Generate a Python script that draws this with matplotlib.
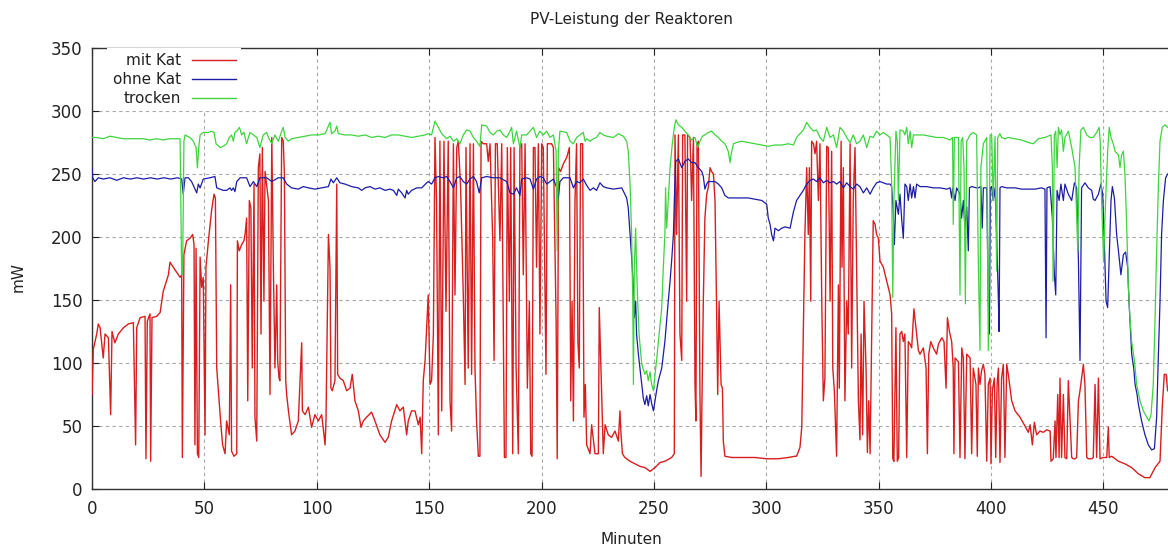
import matplotlib
matplotlib.use("Agg")
import matplotlib.pyplot as plt

# ---------------- data (minutes, mW) ----------------
red_x = [0, 0.6, 2.1, 2.8, 3.6, 5.0, 5.8, 7.3, 8.3, 8.9, 10.2, 11.7, 14.0, 16.2, 18.4, 19.4, 19.9,
         21.4, 23.6, 24.0, 24.6, 25.8, 26.1, 26.7, 28.8, 30.3, 31.7, 34.0, 34.7, 36.9, 39.2, 39.9,
         40.2, 40.9, 42.1, 43.6, 44.8, 45.4, 45.8, 46.3, 46.9, 47.5, 48.1, 48.8, 49.5, 50.3, 50.7,
         51.8, 53.2, 54.3, 54.9, 55.5, 57.0, 58.1, 59.2, 59.9, 61.1, 61.7, 62.1, 63.2, 64.4, 64.7,
         65.5, 66.6, 67.6, 68.1, 68.8, 69.3, 70.0, 70.7, 71.3, 72.1, 72.5, 73.3, 74.0, 74.7, 75.2,
         75.8, 76.5,
         77.0, 78.5, 79.2, 80.0, 80.7, 81.4, 82.2, 82.6, 83.2, 83.6, 84.4, 85.1, 85.6, 86.2, 86.6,
         87.4, 88.8, 90.3, 91.8, 93.3, 93.6, 94.8, 96.3, 97.7, 99.2, 100.7, 102.2, 103.7, 104.1,
         105.2, 105.9, 106.3, 106.9, 108.1, 108.9, 109.3, 110.3, 111.8, 113.3, 114.8, 115.8, 117.0,
         118.5, 119.7, 120.7, 122.2, 124.4, 125.9, 128.1, 130.4, 131.8, 133.3, 135.6, 137.0, 138.5,
         140.0, 140.7, 142.2, 143.7, 145.2, 146.0, 146.7, 147.4, 148.2, 148.9, 149.6, 150.4, 151.1,
         151.9, 152.6, 153.3, 154.1,
         154.8, 155.6, 156.6, 157.5, 158.5, 159.3, 160.0, 160.8, 161.5, 162.3, 163.0, 164.0, 165.2,
         166.0, 166.4, 167.4, 168.2, 168.9, 169.7, 170.4, 171.1, 171.9, 172.6, 173.1, 174.1, 175.6,
         176.3, 177.1, 178.3, 178.9, 179.5, 180.3, 181.5, 182.3, 183.5, 184.2, 184.8, 185.7, 186.3,
         187.2, 187.8, 188.7, 189.7, 190.4, 191.2, 191.9, 192.7, 193.7, 194.6, 195.2, 195.8, 196.4,
         197.1, 197.8, 198.6, 199.3, 200.1, 200.8, 202.0, 202.6, 203.5, 204.5, 205.3, 206.5, 207.0,
         207.6, 208.5, 209.7, 211.2, 212.4, 213.0, 213.6, 214.2, 214.9, 215.6, 216.2, 216.8, 217.4,
         218.3, 218.9, 219.5, 220.1, 221.6, 222.3, 223.8, 225.3, 225.7, 226.8, 227.5, 228.3, 229.7,
         231.2, 232.7, 234.2,
         234.9, 235.4, 236.0, 237.1, 239.4, 241.6, 243.8, 246.0, 248.3, 250.5, 252.7, 254.9, 257.9,
         259.1, 259.4, 260.1, 260.9, 261.6, 262.4, 262.8, 263.8, 264.6, 265.0, 266.1, 266.8, 267.6,
         268.3, 268.7, 269.2, 269.8, 270.5, 271.0, 271.4, 272.0, 272.7, 273.5, 274.2, 275.0, 275.7,
         276.5, 277.2, 277.9, 278.4, 279.0, 279.9, 280.5, 280.9, 281.6, 284.6, 289.1, 295.0, 300.2,
         305.4, 309.8, 312.8,
         313.5, 315.0, 315.8, 316.5, 317.0, 317.2, 318.0, 318.7, 319.2, 319.8, 320.2, 321.0, 321.7,
         322.4, 323.2, 323.9, 324.7, 325.4, 326.1, 326.9, 327.6, 328.4, 329.1, 329.6, 330.3, 331.3,
         332.1, 332.5, 333.3, 333.7, 334.3, 335.0, 335.8, 336.5, 337.3, 338.0, 338.7, 339.5, 340.2,
         341.0, 341.7, 342.2, 342.9, 343.5, 344.4, 345.0, 345.6, 346.2, 346.9, 347.6, 348.4, 349.1,
         349.9, 350.6, 352.1, 353.6, 355.1, 355.8, 356.3, 356.8, 357.7, 358.3, 358.9, 359.5, 360.3,
         361.0, 361.7, 362.5, 363.2, 364.0, 364.7, 365.7, 366.6, 367.7, 368.4, 369.9, 371.1, 371.7,
         372.3, 373.2, 374.3, 375.8, 376.6, 378.1, 379.1, 380.0, 380.6, 381.5, 382.5, 383.2, 383.5,
         384.0, 385.5, 386.2, 387.0, 387.7, 388.4, 389.2, 390.7, 391.4, 392.1, 393.3, 393.9,
         394.4, 395.1, 395.8, 396.6, 397.3, 398.1, 398.8, 399.6, 400.0, 400.6, 401.5, 402.1, 402.7,
         403.3, 404.0, 404.7, 405.5, 406.2, 407.0, 407.7, 409.2, 410.7, 412.9, 415.1, 416.6, 417.4,
         418.4, 419.3, 420.3, 421.8, 423.3, 424.8, 426.3, 426.7, 427.7, 428.5, 428.9, 429.7, 430.3,
         430.7, 431.4, 432.2, 432.9, 433.7, 434.4, 435.1, 435.9, 436.6, 437.4, 438.1, 438.9, 439.6,
         440.3, 441.1, 441.8, 442.6, 443.3, 444.8, 445.5, 446.3, 447.0, 447.8, 448.5, 450.0, 451.5,
         452.2, 452.6, 453.7, 456.7, 459.6, 462.6, 465.6, 468.5, 470.7, 473.0, 475.2, 476.2, 477.1,
         477.9, 478.6]
red_y = [75, 111, 123, 131, 128, 104, 123, 120, 59, 125, 116, 123, 128, 131, 132, 35, 128,
         136, 137, 24, 133, 139, 22, 136, 137, 140, 157, 170, 180, 174, 168, 170,
         25, 186, 197, 199, 202, 194, 35, 191, 28, 25, 184, 160, 168, 43, 176,
         197, 221, 234, 231, 96, 59, 35, 28, 54, 43, 162, 30, 26, 28, 197,
         189, 194, 197, 202, 215, 70, 229, 223, 96, 242, 57, 38, 255, 266, 123,
         271, 149,
         252, 229, 75, 279, 176, 96, 162, 102, 88, 86, 279, 276, 250, 86, 75,
         62, 43, 46, 54, 116, 62, 59, 65, 49, 59, 54, 59, 35, 54,
         202, 176, 80, 78, 86, 242, 91, 88, 86, 78, 80, 91, 70,
         62, 49, 54, 57, 61, 54, 43, 37, 41, 54, 67, 62, 65,
         43, 54, 62, 62, 51, 57, 28, 86, 102, 128, 154, 83, 86,
         123, 279, 229, 43,
         276, 62, 276, 141, 276, 70, 46, 274, 154, 271, 276, 239, 154,
         83, 271, 96, 274, 91, 274, 96, 54, 26, 26, 276, 274, 274,
         260, 274, 197, 102, 274, 274, 197, 274, 25, 25, 271, 149, 271,
         28, 271, 96, 28, 271, 274, 170, 274, 80, 149, 28, 26, 271,
         271, 176, 274, 123, 274, 271, 91, 274, 274, 274, 271, 133, 24,
         255, 252, 258, 263, 271, 70, 149, 54, 229, 274, 117, 96, 274,
         274, 57, 83, 35, 28, 51, 28, 28, 144, 75, 28, 51, 43,
         41, 46, 38,
         62, 43, 28, 25, 22, 20, 18, 17, 14, 17, 21, 22, 25,
         28, 281, 202, 281, 123, 102, 281, 281, 149, 281, 279, 229, 279,
         83, 54, 274, 276, 75, 10, 70, 149, 215, 234, 239, 255, 252,
         250, 229, 144, 75, 149, 83, 80, 38, 26, 25, 25, 25, 24,
         24, 25, 26,
         26, 33, 49, 123, 176, 202, 255, 202, 255, 149, 276, 274, 266,
         276, 229, 274, 149, 70, 88, 272, 271, 149, 268, 96, 78, 26,
         162, 80, 276, 176, 255, 70, 149, 123, 274, 96, 229, 271, 176,
         70, 39, 123, 43, 149, 96, 29, 70, 28, 123, 213, 210, 202,
         199, 181, 176, 165, 154, 139, 24, 22, 128, 22, 25, 123, 125,
         117, 123, 25, 117, 115, 112, 143, 128, 110, 107, 112, 96, 28,
         107, 117, 112, 107, 115, 120, 117, 80, 136, 125, 117, 96, 28,
         104, 101, 25, 112, 104, 24, 107, 104, 28, 96, 83, 26,
         96, 83, 94, 99, 91, 22, 83, 88, 20, 78, 88, 25, 83,
         96, 21, 88, 99, 25, 99, 91, 70, 62, 57, 50, 45, 51,
         35, 53, 43, 46, 45, 47, 46, 22, 24, 54, 25, 75, 25,
         88, 25, 75, 25, 24, 86, 57, 25, 24, 24, 25, 70, 78,
         88, 99, 83, 25, 24, 24, 25, 83, 25, 88, 24, 25, 25,
         49, 25, 26, 22, 20, 17, 12, 9, 9, 17, 22, 65, 91,
         91, 78]

blue_x = [0, 0.3, 1.3, 2.8, 5, 8, 11, 14, 17, 20, 23, 26, 29, 32, 35, 38, 39.9, 40.6, 41.4,
          42.9, 44.3, 45.8, 46.6, 47.3, 48.1, 49.5, 52.5, 54.7, 55.5, 57.0, 58.4, 59.9, 61.4,
          62.1, 62.9, 63.6, 64.4, 65.9, 68.8, 70.3, 71.8, 73.3, 74.7, 77.7,
          80.0, 82.9, 85.1, 86.6, 88.8, 91.8, 94.0, 96.3, 99.2, 102.2, 105.2, 106.3, 107.4,
          108.9, 110.3, 112.6, 115.5, 118.5, 120.0, 121.5, 123.7, 125.9, 128.1, 130.4, 132.6,
          134.1, 135.6, 136.3, 137.8, 139.3, 140.0, 140.7, 142.2, 144.5, 146.7, 148.9, 149.6,
          151.1, 152.6, 154.1,
          156.3, 157.8, 159.3, 160.8, 162.3, 163.7, 165.2, 166.7, 168.2, 169.7, 171.1, 172.3,
          173.4, 175.6, 178.6, 181.5, 184.5, 186.0, 187.5, 188.9, 190.4, 191.2, 193.4, 194.9,
          196.4, 197.8, 199.3, 200.8, 202.3, 203.8, 205.3, 206.8, 207.5, 208.2, 209.7, 212.7,
          214.2, 215.6, 217.1, 218.6, 220.1, 221.6, 223.1, 224.5, 226.0, 227.5, 229.0, 232.0,
          235.7, 237.9, 238.6, 239.4, 240.1, 240.9, 241.3, 241.9, 242.3, 243.1, 243.8, 244.6,
          245.3, 246.0, 246.8, 247.5, 248.3, 249.0, 249.8, 250.5, 251.2, 252.0, 253.5, 254.9,
          256.4, 257.2, 257.9, 258.7, 259.1, 259.7, 260.9, 262.4, 263.8, 265.3, 266.8, 268.3,
          269.8, 271.3, 272.0, 272.7, 273.5, 274.2, 275.7, 277.2, 278.7, 280.2, 281.6, 283.1,
          286.1, 289.1, 292.0, 295.0, 298.0, 300.2, 300.9, 301.7, 302.4, 303.2, 303.9, 305.4,
          306.9, 308.4, 310.6,
          312.1, 313.5, 315.0, 316.5, 318.0, 319.5, 321.0, 322.4, 323.9, 325.4, 326.9, 328.4,
          329.9, 331.3, 332.8, 334.3, 335.8, 337.3, 338.7, 340.2, 341.7, 343.2, 344.7, 346.2,
          347.6, 349.1, 350.6, 352.1, 353.6, 355.1, 355.8, 356.5, 357.0, 357.7, 358.8, 359.5,
          360.3, 361.0, 361.7, 362.5, 363.2, 364.0, 364.7, 365.5, 366.2, 366.9, 368.4, 371.4,
          374.3, 377.3, 380.3, 381.8, 382.5, 382.9, 384.0, 384.7, 386.2, 386.9, 387.7, 388.4,
          389.2, 389.9, 390.4, 391.4, 393.6,
          394.4, 395.5, 396.1, 396.6, 398.1, 398.8, 399.3, 399.7, 400.3, 401.0, 401.8, 402.5,
          403.3, 403.6, 404.0, 404.7, 407.0, 410.7, 413.6, 416.6, 419.6, 422.5, 424.0, 424.5,
          424.9, 426.3, 427.3, 428.2, 428.8, 429.4, 430.3, 431.1, 432.2, 432.9, 434.4, 435.9,
          437.1, 438.1, 438.9, 439.6, 440.3, 441.8, 443.3, 444.8, 445.5, 446.3, 447.8, 448.9,
          449.7, 450.4, 451.2, 451.9, 452.6, 453.4, 454.0, 454.9, 455.9, 457.0, 457.8, 458.9,
          459.9, 460.8, 461.4, 462.0, 462.6, 463.5, 464.1, 465.0, 465.6, 467.0, 468.5, 470.0,
          471.5, 472.7, 473.7, 474.4, 475.2, 475.9, 476.7, 477.7, 478.6]
blue_y = [256, 247, 244, 247, 246, 247, 245, 247, 246, 247, 246, 247, 246, 247, 246, 247, 246, 234, 247,
          247, 244, 238, 235, 242, 239, 246, 247, 248, 239, 238, 237, 237, 239,
          237, 239, 236, 244, 247, 247, 240, 244, 240, 247, 247,
          244, 247, 247, 242, 239, 238, 240, 239, 238, 239, 240, 246, 243,
          247, 243, 242, 240, 239, 237, 239, 240, 238, 239, 237, 238,
          237, 233, 238, 235, 231, 237, 234, 237, 239, 239, 243, 244,
          242, 247, 248,
          247, 248, 244, 239, 247, 248, 244, 242, 246, 248, 244, 235,
          247, 248, 247, 247, 244, 235, 234, 239, 233, 246, 247, 246,
          238, 246, 248, 247, 242, 244, 246, 239, 231, 244, 247, 247,
          239, 244, 243, 246, 241, 237, 239, 237, 243, 240, 239, 238,
          239, 231, 223, 202, 184, 160, 136, 149, 123, 107, 96, 83,
          72, 67, 74, 66, 75, 68, 62, 70, 78, 86, 96, 117,
          149, 165, 181, 202, 229, 260, 262, 255, 260, 262, 259, 259,
          255, 252, 248, 238, 242, 244, 244, 244, 242, 239, 233, 231,
          231, 231, 231, 230, 229, 226, 215, 210, 202, 197, 207, 205,
          207, 208, 207,
          220, 229, 233, 237, 242, 245, 246, 244, 247, 243, 245, 243,
          244, 242, 244, 239, 243, 240, 238, 242, 240, 235, 239, 234,
          239, 243, 244, 243, 242, 242, 240, 220, 194, 229, 218, 234,
          213, 199, 242, 240, 229, 242, 231, 240, 231, 242, 240, 240,
          239, 239, 238, 239, 231, 239, 229, 239, 234, 215, 229, 207,
          224, 189, 239, 240, 239,
          239, 240, 207, 239, 239, 149, 123, 239, 240, 229, 239, 202,
          149, 125, 239, 240, 239, 239, 238, 238, 238, 239, 238, 120,
          239, 240, 215, 170, 154, 237, 229, 242, 229, 242, 234, 229,
          243, 239, 181, 102, 239, 243, 239, 237, 230, 229, 234, 242,
          234, 197, 149, 144, 184, 229, 240, 231, 202, 184, 170, 186,
          188, 176, 149, 128, 107, 96, 83, 75, 67, 54, 43, 35,
          31, 32, 57, 102, 149, 202, 229, 247, 250]

green_x = [0, 2.1, 5.0, 8.0, 11.0, 14.0, 16.9, 19.9, 22.8, 25.8, 28.8, 31.7, 34.7, 37.7, 39.2,
           39.9, 40.3, 40.9, 41.4, 42.4, 43.6, 45.1, 46.3, 46.9, 47.5, 48.1, 49.5, 51.8, 53.2,
           54.3, 55.2, 57.0, 58.4, 59.9, 61.1, 62.1, 62.9, 63.6, 64.4, 65.6, 66.6, 67.6, 68.8,
           69.6, 70.3, 71.8, 73.3, 74.7, 76.2, 77.7,
           78.5, 80.0, 81.4, 82.9, 84.4, 85.1, 85.9, 87.4, 88.8, 91.8, 94.8, 97.7, 100.7, 103.7,
           105.9, 106.6, 108.1, 108.9, 109.6, 112.6, 115.5, 118.5, 121.5, 124.4, 127.4, 130.4,
           133.3, 136.3, 139.3, 142.2, 145.2, 148.2, 149.6, 151.1, 152.6, 154.1, 155.6,
           157.8, 159.3, 160.8, 162.3, 163.7, 165.2, 166.7, 168.2, 169.7, 171.1, 172.6, 173.4,
           175.6, 177.1, 178.6, 180.1, 181.5, 183.0, 184.5, 186.0, 186.7, 187.5, 188.9, 190.4,
           191.2, 193.4, 196.4, 197.8, 199.3, 200.8, 202.3, 203.8, 205.3, 206.5, 207.0, 207.5,
           208.2, 211.2, 212.7, 214.2, 215.6, 217.1, 218.6, 219.4, 220.1, 221.6, 223.1, 224.5,
           226.0, 227.5, 229.0, 232.0,
           234.2, 236.4, 237.9, 238.6, 239.4, 240.1, 240.6, 240.9, 241.3, 241.9, 242.3, 242.8,
           243.4, 244.6, 246.0, 246.8, 247.5, 248.3, 249.0, 249.8, 250.5, 251.2, 252.0, 253.5,
           254.2, 254.9, 255.2, 255.7, 256.4, 257.2, 258.2, 259.1, 259.8, 260.9, 262.4, 263.8,
           265.3, 266.8, 268.3, 269.5, 270.5, 271.6, 272.7, 274.2, 275.7, 277.2, 278.7, 280.2,
           281.6, 283.1, 283.9, 284.3, 285.4, 286.8, 289.1, 292.0, 295.0, 298.0, 300.9, 303.9,
           306.9, 309.8,
           312.1, 313.5, 316.5, 318.0, 319.5, 321.0, 322.4, 323.9, 325.4, 326.9, 328.4, 329.9,
           331.3, 332.8, 334.3, 335.8, 337.3, 338.7, 340.2, 341.7, 343.2, 344.7, 346.2, 347.6,
           349.1, 350.6, 352.1, 353.6, 355.1, 355.8, 356.3, 356.8, 357.7, 358.3, 358.8, 359.5,
           361.0, 361.7, 362.5, 363.2, 364.0, 364.7, 365.5, 366.9, 369.9, 372.9, 375.8, 378.8,
           381.8, 382.9, 383.2, 383.7, 385.5, 386.2, 386.7, 387.4, 388.0, 388.6, 389.2, 390.7,
           392.1, 393.6,
           394.4, 395.1, 395.5, 396.6, 398.1, 398.8, 399.6, 400.3, 401.0, 401.8, 402.5, 403.0,
           404.0, 404.7, 406.2, 407.7, 410.7, 413.6, 416.6, 418.8, 421.1, 424.0, 426.7, 427.3,
           427.6, 428.2, 428.8, 429.4, 430.0, 430.7, 431.4, 432.2, 432.9, 434.4, 435.9, 437.4,
           438.1, 438.6, 439.2, 440.0, 441.1, 442.6, 444.0, 445.5, 447.0, 448.1, 448.6, 449.2,
           450.1, 451.0, 451.9, 452.6, 453.4, 454.4, 455.2, 456.7, 457.4, 458.1, 458.9, 459.6,
           460.4, 461.1, 461.8, 462.6, 463.8, 464.8, 466.3, 467.8, 469.3, 470.3, 471.2, 472.2,
           473.0, 473.7, 474.5, 475.2, 476.2, 477.4, 478.6]
green_y = [279, 279, 278, 280, 279, 278, 278, 278, 278, 277, 278, 277, 278, 278, 278,
           170, 170, 276, 281, 280, 279, 276, 271, 255, 271, 281, 283, 283, 284,
           283, 274, 271, 272, 274, 279, 281, 276, 283, 284, 287, 281, 283, 274,
           279, 283, 281, 279, 271, 281, 283,
           279, 274, 281, 276, 284, 287, 279, 276, 278, 279, 280, 281, 281, 282,
           291, 282, 284, 288, 282, 281, 281, 280, 281, 279, 280, 279,
           281, 281, 280, 279, 280, 281, 282, 281, 292, 287, 282,
           278, 280, 276, 278, 274, 281, 285, 284, 279, 276, 272, 289,
           288, 283, 281, 284, 285, 281, 279, 284, 287, 274, 284, 271,
           281, 281, 287, 279, 284, 281, 284, 279, 281, 268, 189, 268,
           284, 283, 276, 274, 279, 281, 283, 276, 278, 276, 278, 279,
           283, 281, 280, 279,
           282, 280, 276, 268, 242, 202, 149, 83, 176, 207, 176, 149,
           123, 99, 91, 94, 86, 93, 83, 78, 91, 102, 117, 144,
           176, 202, 239, 207, 229, 255, 274, 287, 293, 289, 287, 284,
           281, 277, 279, 271, 276, 280, 281, 283, 284, 281, 279, 276,
           274, 268, 259, 265, 274, 275, 276, 275, 274, 273, 272, 273,
           273, 274,
           273, 279, 285, 291, 287, 284, 285, 279, 276, 287, 279, 281,
           271, 287, 284, 279, 275, 281, 274, 276, 281, 271, 280, 279,
           284, 281, 283, 281, 279, 242, 152, 229, 284, 276, 229, 285,
           284, 281, 287, 274, 284, 271, 281, 281, 281, 280, 279, 279,
           277, 279, 210, 279, 279, 154, 276, 279, 255, 147, 276, 281,
           283, 281,
           176, 110, 255, 274, 279, 110, 281, 281, 229, 280, 173, 279,
           282, 279, 278, 279, 278, 277, 275, 274, 278, 279, 281, 255,
           165, 281, 284, 255, 287, 281, 285, 268, 279, 284, 271, 255,
           215, 189, 255, 285, 287, 281, 279, 279, 283, 287, 276, 229,
           181, 229, 268, 287, 279, 274, 268, 265, 255, 265, 268, 250,
           207, 162, 136, 117, 102, 83, 70, 62, 57, 54, 59, 83,
           136, 189, 242, 276, 287, 289, 287]

series_labels = ["mit Kat", "ohne Kat", "trocken"]
x_ticks = [0, 50, 100, 150, 200, 250, 300, 350, 400, 450]
y_ticks = [0, 50, 100, 150, 200, 250, 300, 350]
title = "PV-Leistung der Reaktoren"
x_label = "Minuten"
y_label = "mW"

# ---------------- figure ----------------
W, H = 1168, 549
fig = plt.figure(figsize=(W / 100, H / 100), dpi=100)
ax_left, ax_right, ax_top, ax_bottom = 92, 1170, 48, 489
ax = fig.add_axes([ax_left / W, (H - ax_bottom) / H,
                   (ax_right - ax_left) / W, (ax_bottom - ax_top) / H])

FS = 11
TICK_FS = 12
ax.plot(red_x, red_y, color="#d81e1e", lw=1.0, label=series_labels[0], zorder=3)
ax.plot(blue_x, blue_y, color="#1c1ca8", lw=0.9, label=series_labels[1], zorder=4)
ax.plot(green_x, green_y, color="#3fd43f", lw=0.9, label=series_labels[2], zorder=5)

ax.set_xlim(0, (ax_right - ax_left) / 2.2475)
ax.set_ylim(0, 350)
ax.set_xticks(x_ticks)
ax.set_yticks(y_ticks)
ax.tick_params(direction="in", length=5, width=0.8, labelsize=TICK_FS,
               top=True, right=False, colors="#222222")
ax.tick_params(axis="x", pad=8)
ax.tick_params(axis="y", pad=7)
ax.grid(True, color="#a8a8a8", linestyle=(0, (3, 3)), linewidth=0.8, zorder=0)
ax.set_axisbelow(True)
for sp in ax.spines.values():
    sp.set_linewidth(1.0)
    sp.set_color("#333333")

ax.set_title(title, fontsize=FS, pad=17, color="#222222")
ax.set_xlabel(x_label, fontsize=FS, color="#222222")
ax.xaxis.label.set_va("center")
ax.xaxis.set_label_coords(0.5, -(539 - ax_bottom) / (ax_bottom - ax_top))
ax.set_ylabel(y_label, fontsize=FS, color="#222222")
ax.yaxis.label.set_va("center")
ax.yaxis.set_label_coords((18 - ax_left) / (ax_right - ax_left), (ax_bottom - 277) / (ax_bottom - ax_top))

fs_px = FS * 100 / 72
leg = ax.legend(loc="upper right",
                bbox_to_anchor=((241 - ax_left) / (ax_right - ax_left), 1.0),
                markerfirst=False, frameon=True, fancybox=False, framealpha=1.0,
                facecolor="white", edgecolor="none", fontsize=FS,
                handlelength=44 / fs_px, handletextpad=11 / fs_px,
                labelspacing=0.25, borderpad=0.35, borderaxespad=0.0)
for line in leg.get_lines():
    line.set_linewidth(1.0)
for t in leg.get_texts():
    t.set_color("#222222")

fig.savefig("out.png", dpi=100)
